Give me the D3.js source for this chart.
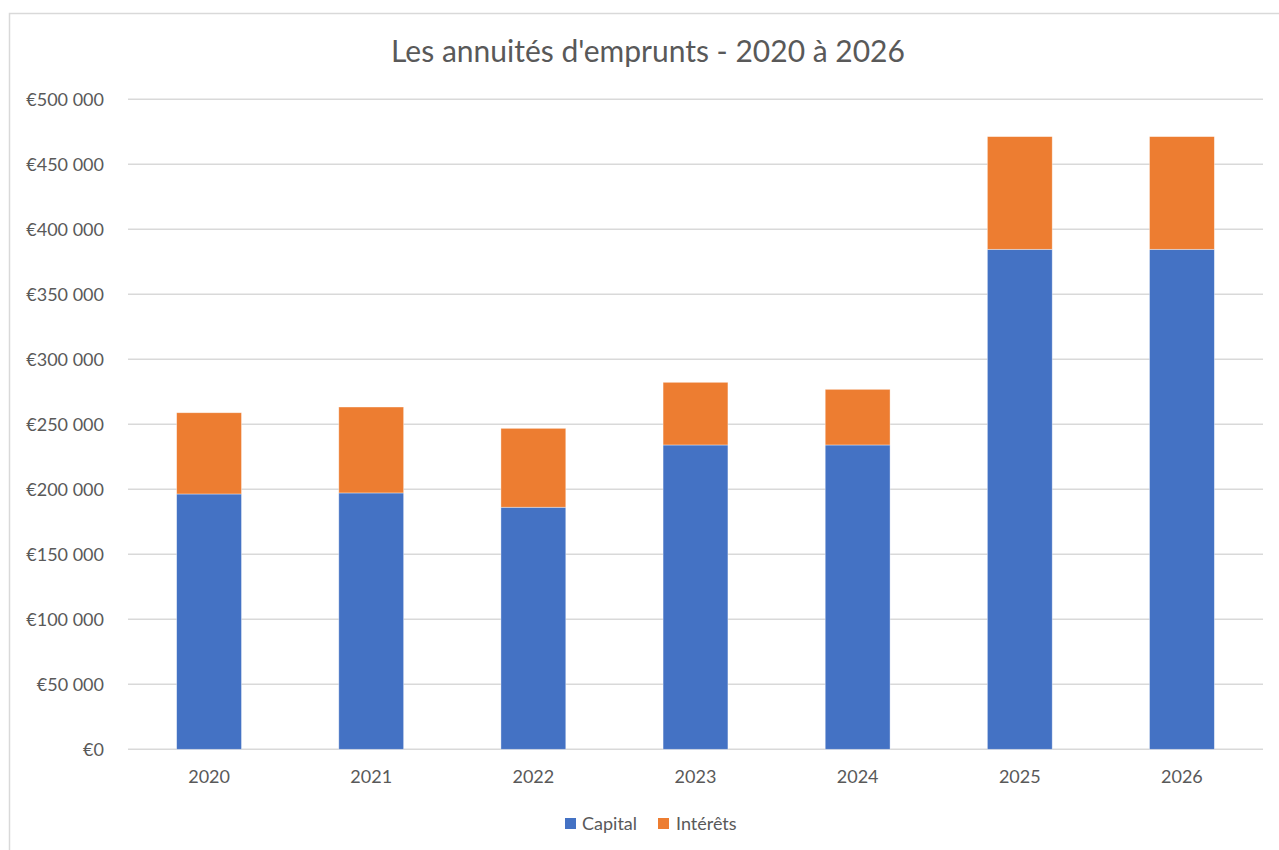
<!DOCTYPE html>
<html>
<head>
<meta charset="utf-8">
<script src="https://cdn.jsdelivr.net/npm/d3@7"></script>
<style>
  body { margin: 0; background: #fff; }
  text { font-family: Lato, "Open Sans", sans-serif; fill: #595959; }
</style>
</head>
<body>
<div id="chart"></div>
<script>
const years = ["2020", "2021", "2022", "2023", "2024", "2025", "2026"];
const capital = [196400, 197200, 186200, 234100, 234100, 384600, 384600];
const interets = [62500, 66100, 60700, 48200, 42800, 86700, 86700];
const seriesNames = ["Capital", "Intérêts"];
const seriesColors = ["#4472C4", "#ED7D31"];
const yTicks = [0, 50000, 100000, 150000, 200000, 250000, 300000, 350000, 400000, 450000, 500000];

const width = 1279, height = 850;
const margin = { top: 99.3, right: 16, bottom: 100.7, left: 128 };

const svg = d3.select("#chart").append("svg")
  .attr("width", width)
  .attr("height", height);

// chart frame
svg.append("rect")
  .attr("x", 9.5).attr("y", 13.5)
  .attr("width", 1300).attr("height", 900)
  .attr("fill", "#fff")
  .attr("stroke", "#d9d9d9")
  .attr("stroke-width", 1.5);

const locale = d3.formatLocale({
  decimal: ",",
  thousands: "\u00a0",
  grouping: [3],
  currency: ["€", ""]
});
const fmt = locale.format("$,.0f");

const x = d3.scaleBand()
  .domain(years)
  .range([margin.left, width - margin.right])
  .paddingInner(0.6)
  .paddingOuter(0.3);

const y = d3.scaleLinear()
  .domain([0, 500000])
  .range([height - margin.bottom, margin.top]);

// gridlines
svg.append("g")
  .selectAll("line")
  .data(yTicks)
  .enter().append("line")
  .attr("x1", margin.left)
  .attr("x2", width - margin.right)
  .attr("y1", d => y(d))
  .attr("y2", d => y(d))
  .attr("stroke", "#d9d9d9")
  .attr("stroke-width", 1.5);

// y labels
svg.append("g")
  .selectAll("text")
  .data(yTicks)
  .enter().append("text")
  .attr("x", 104)
  .attr("y", d => y(d))
  .attr("dy", "0.35em")
  .attr("text-anchor", "end")
  .style("font-size", "18px")
  .text(d => fmt(d));

// stacked bars
const table = years.map((yr, i) => ({ year: yr, Capital: capital[i], "Intérêts": interets[i] }));
const stacked = d3.stack().keys(seriesNames)(table);

svg.append("g")
  .selectAll("g")
  .data(stacked)
  .enter().append("g")
  .attr("fill", (d, i) => seriesColors[i])
  .selectAll("rect")
  .data(d => d)
  .enter().append("rect")
  .attr("x", d => x(d.data.year))
  .attr("width", x.bandwidth())
  .attr("y", d => y(d[1]))
  .attr("height", d => y(d[0]) - y(d[1]))
  .attr("stroke", "#fff")
  .attr("stroke-opacity", 0.5)
  .attr("stroke-width", 0.75);

// x labels
svg.append("g")
  .selectAll("text")
  .data(years)
  .enter().append("text")
  .attr("x", d => x(d) + x.bandwidth() / 2)
  .attr("y", 783)
  .attr("text-anchor", "middle")
  .style("font-size", "18px")
  .text(d => d);

// title
svg.append("text")
  .attr("x", 648)
  .attr("y", 62)
  .attr("text-anchor", "middle")
  .style("font-size", "30px")
  .text("Les annuités d'emprunts - 2020 à 2026");

// legend
const legendX = [565, 658];
const legend = svg.append("g")
  .selectAll("g")
  .data(seriesNames)
  .enter().append("g")
  .attr("transform", (d, i) => `translate(${legendX[i]}, 818)`);

legend.append("rect")
  .attr("width", 11)
  .attr("height", 11)
  .attr("fill", (d, i) => seriesColors[i]);

legend.append("text")
  .attr("x", (d, i) => i === 0 ? 17 : 18)
  .attr("y", 6)
  .attr("dy", "0.35em")
  .style("font-size", "18px")
  .text(d => d);
</script>
</body>
</html>
